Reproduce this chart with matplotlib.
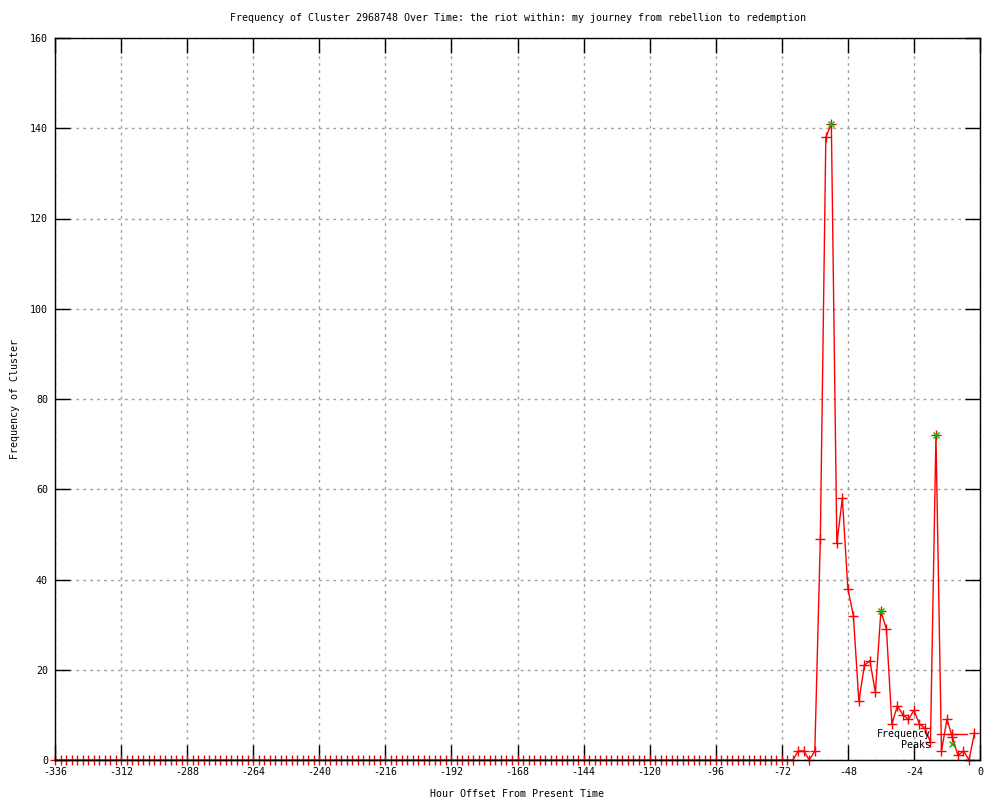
"""
Cluster frequency over time — gnuplot-style line chart with peak markers.
"""
import matplotlib
matplotlib.use("Agg")
import matplotlib.pyplot as plt

plt.rcParams.update({
    "font.family": "DejaVu Sans Mono",
    "font.size": 7.2,
    "axes.unicode_minus": False,
})

# ---- Data ---------------------------------------------------------------
# quiet hours: -336 .. -68 every 2 h, all zero
quiet_hours = list(range(-336, -67, 2))
quiet_counts = [0] * len(quiet_hours)

# active hours: -66 .. -2 every 2 h
active_hours = list(range(-66, -1, 2))
active_counts = [2, 2, 0, 2, 49, 138, 141, 48, 58, 38, 32, 13, 21, 22, 15,
                 33, 29, 8, 12, 10, 9, 11, 8, 7, 4, 72, 2, 9, 5, 1, 2, 0, 6]

hours = quiet_hours + active_hours
counts = quiet_counts + active_counts

peak_hours = [-54, -36, -16]
peak_counts = [counts[hours.index(h)] for h in peak_hours]

x_ticks = list(range(-336, 1, 24))
y_ticks = list(range(0, 161, 20))

TITLE = ("Frequency of Cluster 2968748 Over Time: the riot within: "
         "my journey from rebellion to redemption")

# ---- Figure -------------------------------------------------------------
fig = plt.figure(figsize=(10, 8), dpi=100)
ax = fig.add_axes([0.055, 0.05, 0.925, 0.9025])

ax.plot(hours, counts, color="#ff0000", linewidth=1.0, marker="+",
        markersize=7, markeredgewidth=1.0, clip_on=False, zorder=2,
        label="Frequency")
ax.plot(peak_hours, peak_counts, linestyle="none", marker="x",
        color="#00c000", markersize=5, markeredgewidth=1.0, clip_on=False,
        zorder=3, label="Peaks")

ax.set_xlim(-336, 0)
ax.set_ylim(0, 160)
ax.set_xticks(x_ticks)
ax.set_yticks(y_ticks)
ax.tick_params(direction="in", length=11, width=1, top=True, right=True,
               labelsize=7.2, pad=5, color="black")

ax.grid(True, color="#a0a0a0", linestyle=(0, (2, 3)), linewidth=1.0)
ax.set_axisbelow(True)
for s in ax.spines.values():
    s.set_linewidth(1.0)
    s.set_color("black")

ax.set_title(TITLE, fontsize=7.2, pad=12)
ax.set_xlabel("Hour Offset From Present Time", fontsize=7.2, labelpad=9)
ax.set_ylabel("Frequency of Cluster", fontsize=7.2, labelpad=7)

leg = ax.legend(loc="lower right", bbox_to_anchor=(0.992, 0.006),
                frameon=False, markerfirst=False, handlelength=3.0,
                handletextpad=0.6, labelspacing=0.05, fontsize=7.2,
                borderaxespad=0.2)
for t in leg.get_texts():
    t.set_ha("right")

fig.savefig("out.png", dpi=100)
print("wrote out.png")
